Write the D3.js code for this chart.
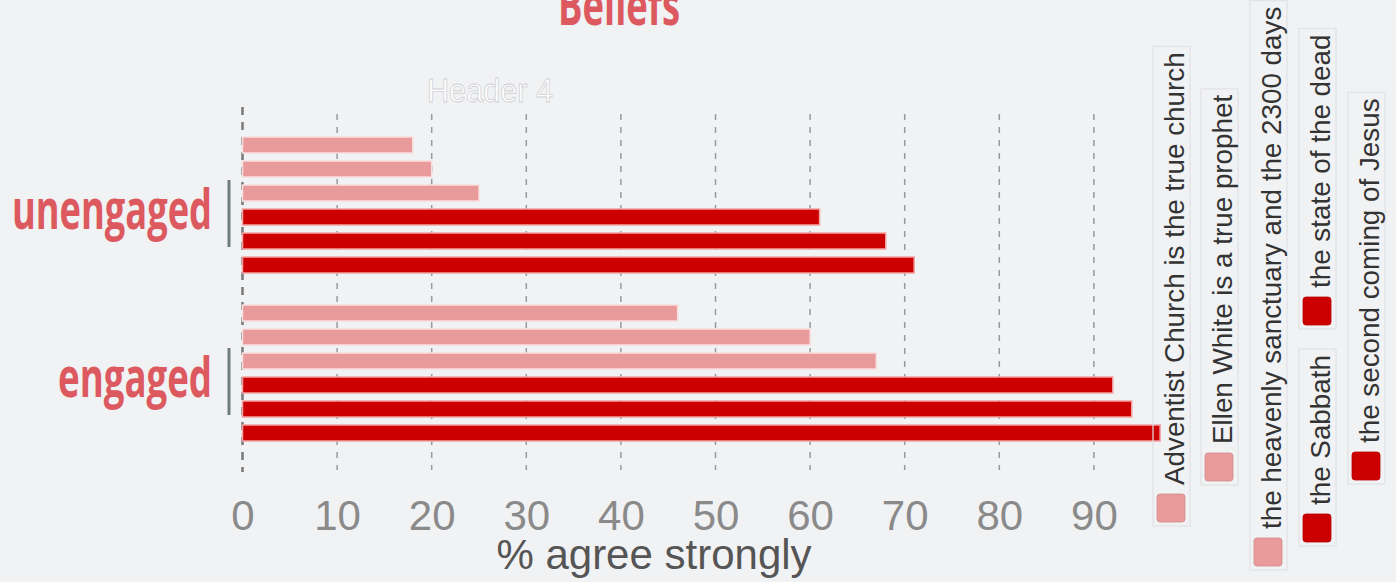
<!DOCTYPE html>
<html>
<head>
<meta charset="utf-8">
<script src="https://cdn.jsdelivr.net/npm/d3@7"></script>
<style>
  body { margin: 0; background: #f1f2f4; }
  svg { display: block; }
</style>
</head>
<body>
<div id="chart"></div>
<script>

var groups = ["unengaged", "engaged"];
var beliefs = [
	"Adventist Church is the true church",
	"Ellen White is a true prophet",
	"the heavenly sanctuary and the 2300 days",
	"the Sabbath",
	"the state of the dead",
	"the second coming of Jesus"
];
var unengagedValues = [18, 20, 25, 61, 68, 71];
var engagedValues = [46, 60, 67, 92, 94, 97];
var tickValues = [0, 10, 20, 30, 40, 50, 60, 70, 80, 90];

var width = 1396, height = 582;
var red = "#dc5a5f";

var svg = d3.select("#chart").append("svg")
	.attr("width", width)
	.attr("height", height);

var xScale = d3.scaleLinear()
	.domain([0, 100])
	.range([242.5, 1188.5]);

// outer band = engagement group, inner band = belief
var yGroup = d3.scaleBand()
	.domain(groups)
	.range([133, 445])
	.paddingInner(1 / 7);

var yBelief = d3.scaleBand()
	.domain(beliefs)
	.range([0, yGroup.bandwidth()])
	.paddingInner(1 / 3)
	.paddingOuter(1 / 6);

var color = d3.scaleOrdinal()
	.domain(beliefs)
	.range(["#e99b9b", "#e99b9b", "#e99b9b", "#cc0000", "#cc0000", "#cc0000"]);

var edge = d3.scaleOrdinal()
	.domain(beliefs)
	.range(["#f9dede", "#f9dede", "#f9dede", "#f4a3a3", "#f4a3a3", "#f4a3a3"]);

var rows = [];
groups.forEach(function(g, gi) {
	var vals = gi == 0 ? unengagedValues : engagedValues;
	beliefs.forEach(function(b, i) {
		rows.push({group: g, belief: b, value: vals[i]});
	});
});

// title, cut by the top of the frame
svg.append("text")
	.attr("x", 558)
	.attr("y", 25)
	.attr("textLength", 122)
	.attr("lengthAdjust", "spacingAndGlyphs")
	.style("font-family", "'Open Sans', sans-serif")
	.style("font-weight", "bold")
	.style("font-size", "56px")
	.style("fill", red)
	.text("Beliefs");

svg.append("text")
	.attr("x", 427)
	.attr("y", 102)
	.attr("textLength", 126)
	.attr("lengthAdjust", "spacingAndGlyphs")
	.style("font-family", "'Liberation Sans', Arial, sans-serif")
	.style("font-size", "33px")
	.style("fill", "#ffffff")
	.style("stroke", "#cfd0d2")
	.style("stroke-width", 0.8)
	.text("Header 4");

// dashed grid
svg.append("g")
	.selectAll("line")
	.data(tickValues.slice(1))
	.enter().append("line")
	.attr("x1", function(d) { return xScale(d); })
	.attr("x2", function(d) { return xScale(d); })
	.attr("y1", 114)
	.attr("y2", 470)
	.attr("stroke", "#9a9a9a")
	.attr("stroke-width", 1.5)
	.attr("stroke-dasharray", "6,7");

svg.append("line")
	.attr("x1", xScale(0))
	.attr("x2", xScale(0))
	.attr("y1", 107)
	.attr("y2", 472)
	.attr("stroke", "#7a7a7a")
	.attr("stroke-width", 2.5)
	.attr("stroke-dasharray", "8,7");

// bars
svg.append("g")
	.selectAll("rect")
	.data(rows)
	.enter().append("rect")
	.attr("x", xScale(0))
	.attr("y", function(d) { return yGroup(d.group) + yBelief(d.belief); })
	.attr("width", function(d) { return xScale(d.value) - xScale(0); })
	.attr("height", yBelief.bandwidth())
	.attr("fill", function(d) { return color(d.belief); })
	.attr("stroke", function(d) { return edge(d.belief); })
	.attr("stroke-width", 1.5);

// group labels with their little tick bars
var groupLabelWidth = {unengaged: 200, engaged: 154};
var gl = svg.append("g")
	.selectAll("g")
	.data(groups)
	.enter().append("g")
	.attr("transform", function(d) { return "translate(0," + (yGroup(d) + yGroup.bandwidth() / 2) + ")"; });

gl.append("line")
	.attr("x1", 229)
	.attr("x2", 229)
	.attr("y1", -25)
	.attr("y2", 42)
	.attr("stroke", "#6f7d7c")
	.attr("stroke-width", 3);

gl.append("text")
	.attr("x", 212)
	.attr("y", 24)
	.attr("text-anchor", "end")
	.attr("textLength", function(d) { return groupLabelWidth[d]; })
	.attr("lengthAdjust", "spacingAndGlyphs")
	.style("font-family", "'Open Sans', sans-serif")
	.style("font-weight", "bold")
	.style("font-size", "56px")
	.style("fill", red)
	.text(function(d) { return d; });

// x axis labels
var xAxis = svg.append("g")
	.attr("transform", "translate(0,530)")
	.call(d3.axisBottom(xScale).tickValues(tickValues).tickSize(0).tickPadding(0));

xAxis.select(".domain").remove();
xAxis.selectAll("text")
	.attr("dy", 0)
	.style("font-family", "'Liberation Sans Narrow', 'Liberation Sans', sans-serif")
	.style("font-size", "42px")
	.style("fill", "#8a8a8a");

svg.append("text")
	.attr("x", 654)
	.attr("y", 569)
	.attr("text-anchor", "middle")
	.style("font-family", "'Liberation Sans', Arial, sans-serif")
	.style("font-size", "42px")
	.style("fill", "#555555")
	.text("% agree strongly");

// legend, rotated, items placed by their swatch corner
var legendSpots = [[1157, 494], [1205, 453], [1254, 538], [1303, 514], [1303, 297], [1352, 452]];
var sw = 28;

var items = svg.append("g")
	.selectAll("g")
	.data(beliefs)
	.enter().append("g")
	.attr("transform", function(d, i) { return "translate(" + legendSpots[i][0] + "," + legendSpots[i][1] + ")"; });

var boxes = items.append("rect")
	.attr("fill", "none")
	.attr("stroke", "#e1e2e4")
	.attr("stroke-width", 1.2);

items.append("rect")
	.attr("width", sw)
	.attr("height", sw)
	.attr("rx", 3)
	.attr("fill", function(d) { return color(d); })
	.attr("stroke", function(d) { return d3.color(color(d)).darker(0.3); })
	.attr("stroke-width", 0.8);

var labels = items.append("text")
	.attr("transform", "translate(" + (sw - 1) + ",-9) rotate(-90)")
	.style("font-family", "'Liberation Sans', Arial, sans-serif")
	.style("font-size", "27.8px")
	.style("fill", "#333333")
	.text(function(d) { return d; });

labels.each(function(d, i) {
	var len = this.getComputedTextLength();
	d3.select(boxes.nodes()[i])
		.attr("x", -4)
		.attr("y", -9 - len - 6)
		.attr("width", sw + 9)
		.attr("height", len + 6 + 9 + sw + 4);
});

</script>
</body>
</html>
